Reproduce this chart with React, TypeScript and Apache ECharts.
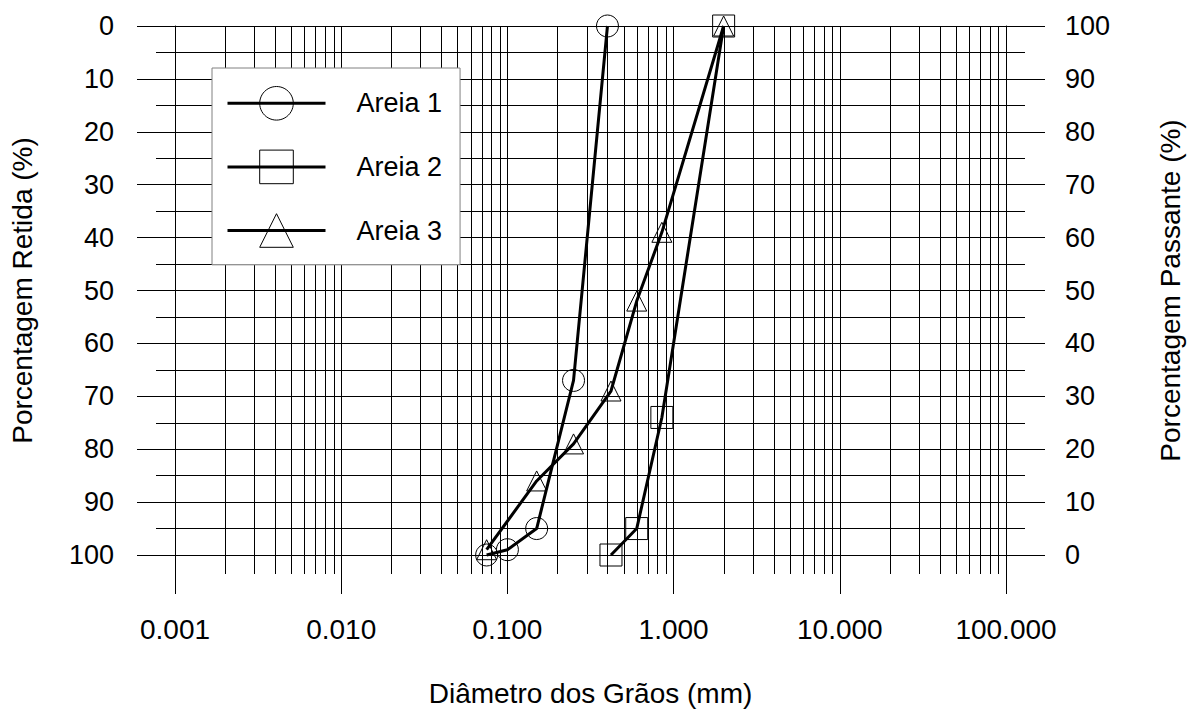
import React, { useEffect, useRef } from "react";
import * as echarts from "echarts";

const seriesNames = ["Areia 1", "Areia 2", "Areia 3"];
const areia1X = [0.4, 0.25, 0.15, 0.1, 0.075];
const areia1Y = [0, 67, 95, 99, 100];
const areia2X = [2.0, 0.85, 0.6, 0.42];
const areia2Y = [0, 74, 95, 100];
const areia3X = [2.0, 0.85, 0.6, 0.42, 0.25, 0.15, 0.075];
const areia3Y = [0, 39, 52, 69, 79, 86, 99];
const decades = [0.001, 0.01, 0.1, 1, 10];
const minorMultipliers = [2, 3, 4, 5, 6, 7, 8, 9];
const xTitle = "Diâmetro dos Grãos (mm)";
const yLeftTitle = "Porcentagem Retida (%)";
const yRightTitle = "Porcentagem Passante (%)";

const FONT = "'Liberation Sans', Arial, sans-serif";

export default function App() {
  const ref = useRef<HTMLDivElement>(null);
  useEffect(() => {
    if (!ref.current) return;
    const chart = echarts.init(ref.current, null, { renderer: "svg" });
    const minorX: number[][] = [];
    decades.forEach((d) => minorMultipliers.forEach((m) => minorX.push([d * m, 0])));
    const zip = (xs: number[], ys: number[]) => xs.map((x, i) => [x, ys[i]]);
    const symbols = ["circle", "rect", "triangle"];
    const sizes = [22, 22, 20];
    const dataSets = [zip(areia1X, areia1Y), zip(areia2X, areia2Y), zip(areia3X, areia3Y)];
    const lineSeries = seriesNames.map((name, i) => ({
      name,
      type: "line",
      data: dataSets[i],
      symbol: symbols[i],
      symbolSize: sizes[i],
      showAllSymbol: true,
      clip: false,
      z: 5,
      lineStyle: { color: "#000", width: 3 },
      itemStyle: { color: "rgba(0,0,0,0)", borderColor: "#000", borderWidth: 1 },
    }));
    chart.setOption({
      animation: false,
      textStyle: { fontFamily: FONT },
      grid: {
        left: 175,
        top: 26,
        width: 831,
        height: 529,
        containLabel: false,
        outerBoundsMode: "none",
      },
      legend: {
        data: seriesNames,
        orient: "vertical",
        left: 212,
        top: 68,
        backgroundColor: "#fff",
        borderColor: "#808080",
        borderWidth: 1,
        borderRadius: 0,
        padding: [18, 18, 17, 14],
        itemWidth: 98,
        itemHeight: 42,
        itemGap: 29,
        lineStyle: { color: "#000", width: 3 },
        itemStyle: { color: "rgba(0,0,0,0)", borderColor: "#000", borderWidth: 1 },
        textStyle: { fontSize: 27, color: "#000", fontFamily: FONT, padding: [0, 0, 0, 26] },
        z: 10,
      },
      xAxis: {
        type: "log",
        logBase: 10,
        min: 0.001,
        max: 100,
        splitNumber: 5,
        name: xTitle,
        nameLocation: "middle",
        nameGap: 124,
        nameTextStyle: { fontSize: 28, color: "#000", fontFamily: FONT },
        axisLine: { show: true, onZero: false, lineStyle: { color: "#000", width: 1 } },
        axisTick: { show: true, inside: false, length: 39, lineStyle: { color: "#000" } },
        axisLabel: {
          fontSize: 28,
          color: "#000",
          margin: 60,
          fontFamily: FONT,
          formatter: (v: number) => v.toFixed(3),
        },
        splitLine: { show: true, lineStyle: { color: "#000", width: 1 } },
      },
      yAxis: [
        {
          type: "value",
          inverse: true,
          min: 0,
          max: 100,
          interval: 10,
          position: "left",
          name: yLeftTitle,
          nameLocation: "middle",
          nameRotate: 90,
          nameGap: 139,
          nameTextStyle: { fontSize: 28, color: "#000", fontFamily: FONT },
          axisLine: { show: true, onZero: false, lineStyle: { color: "#000", width: 1 } },
          axisTick: { show: true, inside: false, length: 38, lineStyle: { color: "#000" } },
          minorTick: { show: true, splitNumber: 2, length: 19, lineStyle: { color: "#000" } },
          axisLabel: { fontSize: 27, color: "#000", margin: 61, fontFamily: FONT },
          splitLine: { show: true, lineStyle: { color: "#000", width: 1 } },
          minorSplitLine: { show: true, lineStyle: { color: "#000", width: 1 } },
        },
        {
          type: "value",
          min: 0,
          max: 100,
          interval: 10,
          position: "right",
          name: yRightTitle,
          nameLocation: "middle",
          nameRotate: 90,
          nameGap: 150,
          nameTextStyle: { fontSize: 28, color: "#000", fontFamily: FONT },
          axisLine: { show: true, onZero: false, lineStyle: { color: "#000", width: 1 } },
          axisTick: { show: true, inside: false, length: 39, lineStyle: { color: "#000" } },
          minorTick: { show: true, splitNumber: 2, length: 19, lineStyle: { color: "#000" } },
          axisLabel: { fontSize: 27, color: "#000", margin: 59, fontFamily: FONT },
          splitLine: { show: false },
        },
      ],
      series: [
        {
          type: "custom",
          name: "minorGrid",
          data: minorX,
          encode: { x: 0, y: 1 },
          clip: false,
          silent: true,
          z: 1,
          renderItem: (_p: any, api: any) => {
            const x = api.value(0);
            const top = api.coord([x, 0]);
            const bot = api.coord([x, 100]);
            const px = Math.round(top[0]) + 0.5;
            return {
              type: "line",
              shape: { x1: px, y1: top[1], x2: px, y2: bot[1] + 19 },
              style: { stroke: "#000", lineWidth: 1 },
            };
          },
        },
        ...lineSeries,
      ],
    });
    return () => chart.dispose();
  }, []);
  return (
    <div
      ref={ref}
      style={{ position: "fixed", left: 0, top: 0, width: 1187, height: 715, background: "#fff" }}
    />
  );
}
